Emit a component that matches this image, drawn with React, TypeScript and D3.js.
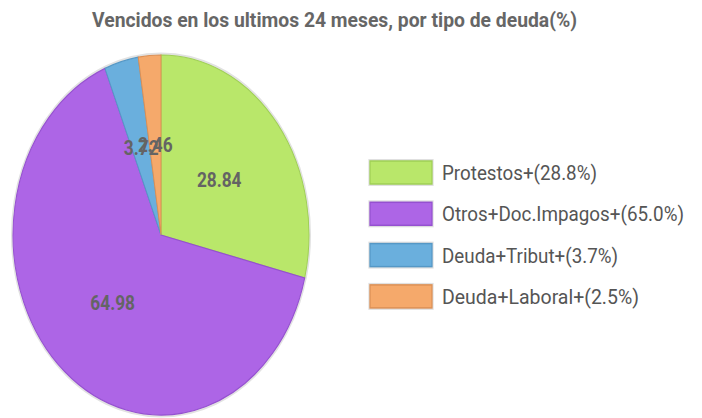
import React from "react";
import * as d3 from "d3";

const categories = ["Protestos", "Otros+Doc.Impagos", "Deuda+Tribut", "Deuda+Laboral"];
const values = [28.84, 64.98, 3.72, 2.46];
const legendLabels = ["Protestos+(28.8%)", "Otros+Doc.Impagos+(65.0%)", "Deuda+Tribut+(3.7%)", "Deuda+Laboral+(2.5%)"];
const legendWidths = [155, 242, 176, 197];
const colors = ["#b9e76a", "#ad65e6", "#6aafdd", "#f5a96b"];
const strokes = ["#9fcf55", "#9550d0", "#5598c6", "#dc9055"];
const title = "Vencidos en los ultimos 24 meses, por tipo de deuda(%)";

const SX = 0.822;
const W = 702, H = 418;

export default function App() {
  const cx = 161 / SX, cy = 235, R = 180;
  const pie = d3.pie<number>().sort(null).value((d) => d);
  const arcs = pie(values);
  const arc = d3.arc<d3.PieArcDatum<number>>().innerRadius(0).outerRadius(R);
  const labelArc = d3.arc<d3.PieArcDatum<number>>().innerRadius(R / 2).outerRadius(R / 2);
  const legendX = 370 / SX;
  const legendY = d3.scaleLinear().domain([0, 1]).range([161, 202.3]);
  return (
    <svg width={W} height={H} style={{ position: "absolute", left: 0, top: 0, background: "#fff" }}>
      <g transform={`scale(${SX},1)`}>
        <text x={334.5 / SX} y={27.5} textAnchor="middle" fontFamily="Roboto" fontWeight="bold" fontSize={21}
          fill="#666" textLength={485 / SX} lengthAdjust="spacingAndGlyphs">{title}</text>
        <g transform={`translate(${cx},${cy})`}>
          <circle r={R + 1} fill="none" stroke="#e2e2e2" strokeWidth={3} />
          {arcs.map((a, i) => (
            <path key={categories[i]} d={arc(a) || ""} fill={colors[i]} stroke={strokes[i]} strokeWidth={1.2} />
          ))}
          {arcs.map((a, i) => {
            const [lx, ly] = labelArc.centroid(a);
            return (
              <text key={"l" + i} x={lx} y={ly} textAnchor="middle" dominantBaseline="central"
                fontFamily="Roboto" fontWeight="bold" fontSize={21} fill="#646464">{values[i].toFixed(2)}</text>
            );
          })}
        </g>
        {legendLabels.map((l, i) => {
          const y = legendY(i);
          return (
            <g key={l}>
              <rect x={legendX} y={y} width={62 / SX} height={23} fill="none" stroke="#e0e0e0" strokeWidth={4} />
              <rect x={legendX} y={y} width={62 / SX} height={23} fill={colors[i]} stroke={strokes[i]} strokeWidth={1.5} />
              <text x={442 / SX} y={y + 12} dominantBaseline="central" fontFamily="Roboto" fontSize={21} fill="#555"
                textLength={legendWidths[i] / SX} lengthAdjust="spacingAndGlyphs">{l}</text>
            </g>
          );
        })}
      </g>
    </svg>
  );
}
